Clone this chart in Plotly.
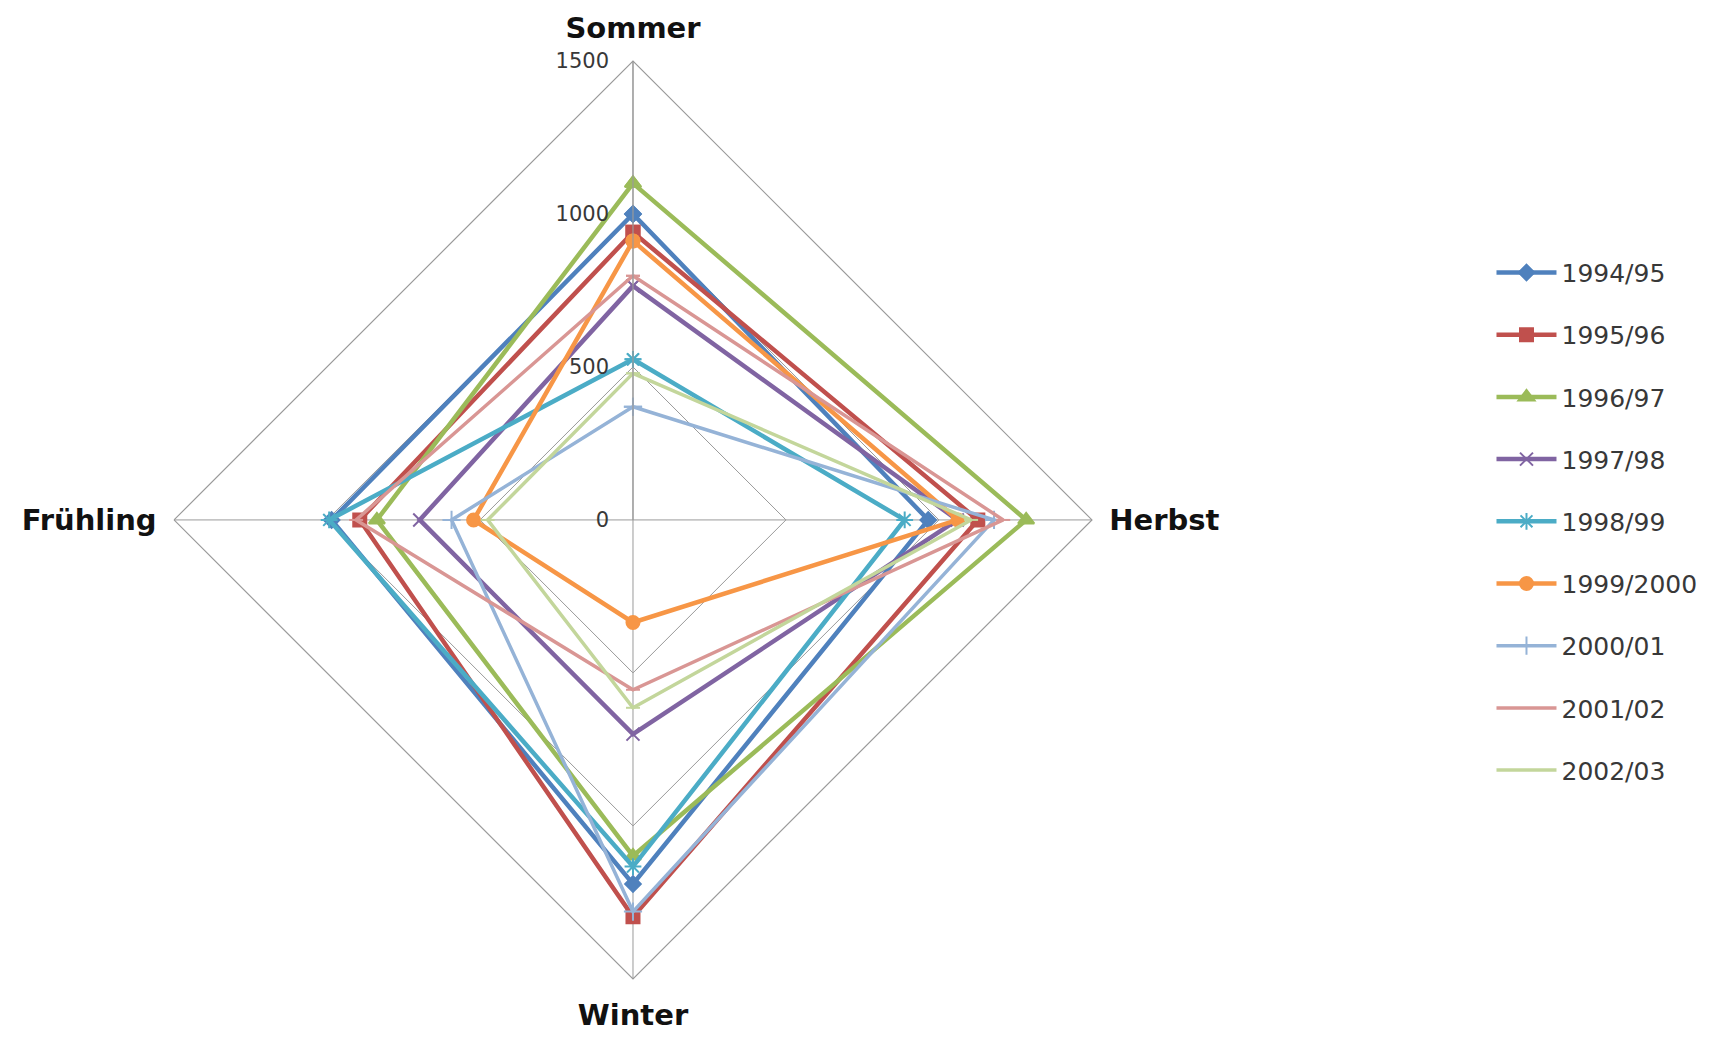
import plotly.graph_objects as go

seasons = ["Sommer", "Herbst", "Winter", "Frühling"]

series_names = ["1994/95", "1995/96", "1996/97", "1997/98", "1998/99",
                "1999/2000", "2000/01", "2001/02", "2002/03"]

v_1994_95 = [1000, 965, 1190, 985]
v_1995_96 = [940, 1127, 1297, 893]
v_1996_97 = [1100, 1285, 1098, 837]
v_1997_98 = [765, 1060, 700, 697]
v_1998_99 = [525, 888, 1133, 993]
v_1999_2000 = [912, 1062, 335, 521]
v_2000_01 = [370, 1180, 1280, 593]
v_2001_02 = [798, 1210, 555, 905]
v_2002_03 = [479, 1105, 614, 475]

radial_ticks = [0, 500, 1000, 1500]

values = [v_1994_95, v_1995_96, v_1996_97, v_1997_98, v_1998_99,
          v_1999_2000, v_2000_01, v_2001_02, v_2002_03]

colors = ["#4F81BD", "#C0504D", "#9BBB59", "#8064A2", "#4BACC6",
          "#F79646", "#95B3D7", "#D99694", "#C3D69B"]
symbols = ["diamond", "square", "triangle-up", "x-thin-open", "asterisk-open",
           "circle", "cross-thin-open", "line-ew-open", "line-ew-open"]
sizes = [12, 13, 14, 13, 14, 13, 13, 10, 10]
widths = [4.5, 4.5, 4.5, 4.5, 4.5, 4.5, 3.5, 3.5, 3.5]

fig = go.Figure()
for name, vals, col, sym, sz, w in zip(series_names, values, colors, symbols, sizes, widths):
    fig.add_trace(go.Scatterpolar(
        r=vals + vals[:1],
        theta=seasons + seasons[:1],
        mode="lines+markers",
        name=name,
        legendgroup=name,
        line=dict(color=col, width=w),
        marker=dict(symbol=sym, size=sz, color=col,
                    line=dict(color=col, width=2)),
    ))

fig.update_layout(
    width=1717, height=1042,
    paper_bgcolor="white", plot_bgcolor="white",
    margin=dict(l=0, r=0, t=0, b=0),
    font=dict(family="DejaVu Sans", color="#222222"),
    polar=dict(
        domain=dict(x=[0.0967, 0.6313], y=[0.0682, 0.9492]),
        bgcolor="white",
        gridshape="linear",
        radialaxis=dict(
            range=[0, 1500], tickvals=radial_ticks,
            angle=90, tickangle=90, side="counterclockwise",
            showline=True, linecolor="#9A9A9A", linewidth=1.2,
            gridcolor="#9A9A9A", gridwidth=1.2,
            ticks="outside", ticklen=16, tickcolor="rgba(0,0,0,0)",
            tickfont=dict(size=21, color="#383838"),
        ),
        angularaxis=dict(
            direction="clockwise", rotation=90,
            showline=True, linecolor="#9A9A9A", linewidth=1.2,
            gridcolor="#9A9A9A", gridwidth=1.2,
            ticks="outside", ticklen=11, tickcolor="rgba(0,0,0,0)",
            tickfont=dict(size=29, color="#111111", family="DejaVu Sans", weight="bold"),
        ),
    ),
    legend=dict(
        x=0.864, y=0.768, xanchor="left", yanchor="top",
        font=dict(size=25, color="#383838"),
        tracegroupgap=26.7,
        traceorder="grouped",
        itemwidth=60,
    ),
)

fig.write_html("out.html")
